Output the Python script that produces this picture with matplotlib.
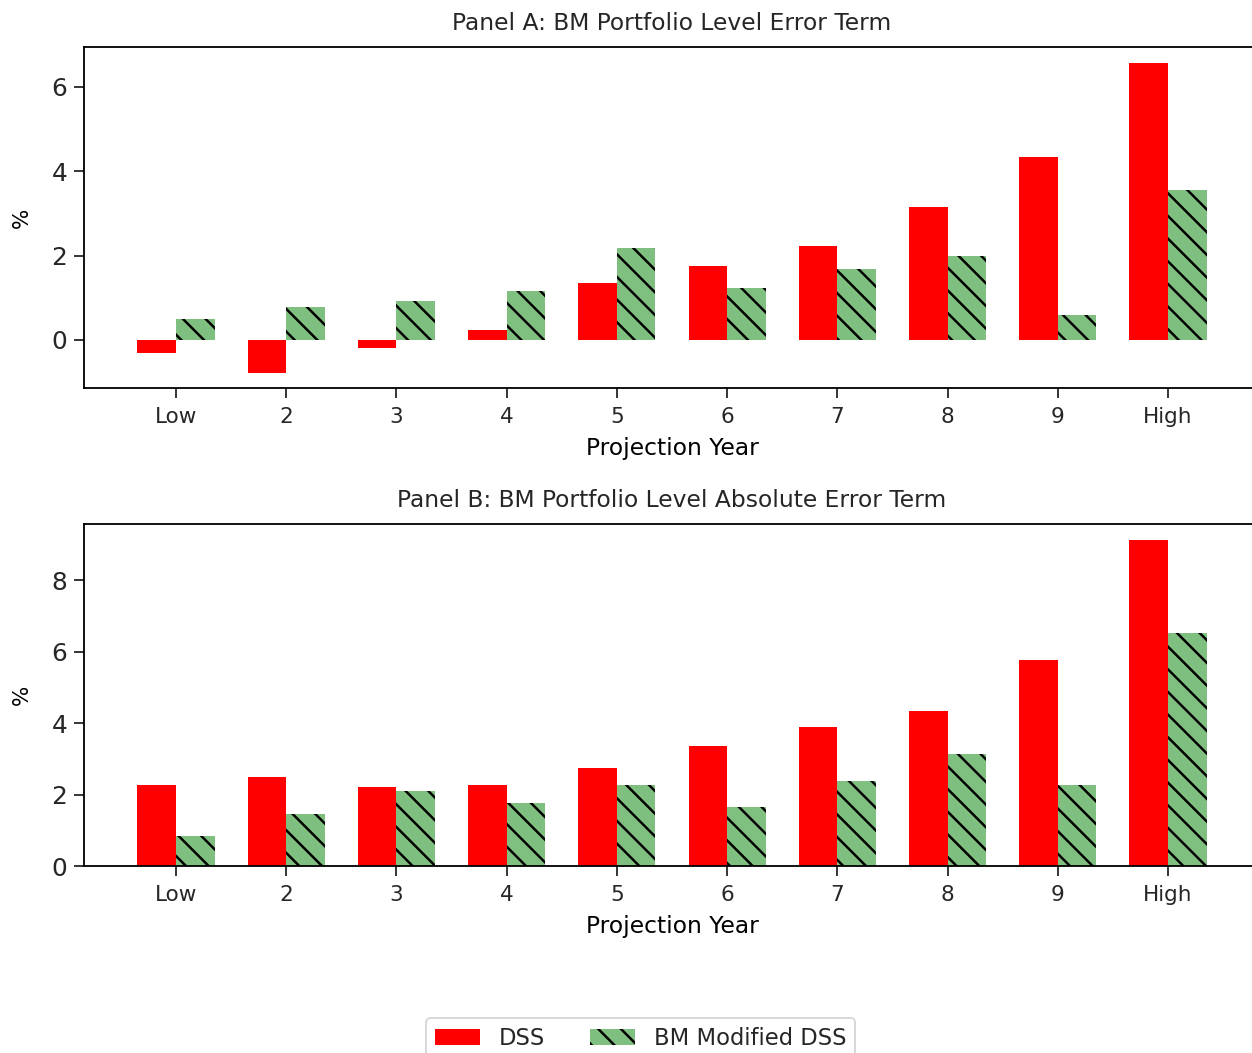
import numpy as np
import matplotlib
matplotlib.use("Agg")
import matplotlib.pyplot as plt

labels=['Low','2','3','4','5','6','7','8','9','High']
# panel A: signed error term (%)
dss_err=[-0.32,-0.77,-0.18,0.24,1.35,1.74,2.23,3.16,4.33,6.57]
bm_err=[0.49,0.79,0.92,1.16,2.17,1.22,1.67,1.99,0.59,3.56]
# panel B: absolute error term (%)
dss_abs=[2.28,2.50,2.22,2.28,2.74,3.36,3.88,4.35,5.78,9.12]
bm_abs=[0.83,1.47,2.09,1.76,2.28,1.64,2.39,3.14,2.28,6.53]

DPI=136
SMALL_SIZE=11.4
MEDIUM_SIZE=12.35
BIGGER_SIZE=13.2
plt.rc('font',size=MEDIUM_SIZE)
plt.rc('xtick',labelsize=SMALL_SIZE)
plt.rc('ytick',labelsize=BIGGER_SIZE)
plt.rc('xtick.major',size=5.15,width=0.96,pad=5.15)
plt.rc('ytick.major',size=5.15,width=0.96,pad=3.7)
plt.rc('axes',linewidth=0.96)
plt.rc('hatch',linewidth=1.3,color='black')
plt.rc('text',color='#262626')
plt.rc('xtick',color='#262626')
plt.rc('ytick',color='#262626')

x=np.arange(len(labels))
width=0.35
W,H=1252,1053
fig=plt.figure(figsize=(W/float(DPI),H/float(DPI)),dpi=DPI)
ax1=fig.add_axes([84.0/W,1-388.0/H,1176.0/W,341.0/H])
ax2=fig.add_axes([84.0/W,1-866.0/H,1176.0/W,342.0/H])

def panel(ax,dss,bm,title):
    b1=ax.bar(x-width/2,dss,width,color='red',label='DSS')
    b2=ax.bar(x+width/2,bm,width,color='#7fbf7f',hatch='\\\\',label='BM Modified DSS')
    ax.set_xticks(x)
    ax.set_xticklabels(labels)
    ax.set_xlabel('Projection Year',labelpad=5.15)
    ax.set_ylabel('%',labelpad=10.3,fontsize=SMALL_SIZE)
    ax.set_title(title,fontsize=MEDIUM_SIZE,pad=8.8)
    return b1,b2

b1,b2=panel(ax1,dss_err,bm_err,'Panel A: BM Portfolio Level Error Term')
panel(ax2,dss_abs,bm_abs,'Panel B: BM Portfolio Level Absolute Error Term')
ax1.set_yticks([0,2,4,6])
ax2.set_yticks([0,2,4,6,8])

fig.legend([b1,b2],['DSS','BM Modified DSS'],loc='upper left',ncol=2,
           bbox_to_anchor=(426.0/W,1-1018.0/H),fontsize=12.0,borderaxespad=0)
fig.savefig('out.png',dpi=DPI)
